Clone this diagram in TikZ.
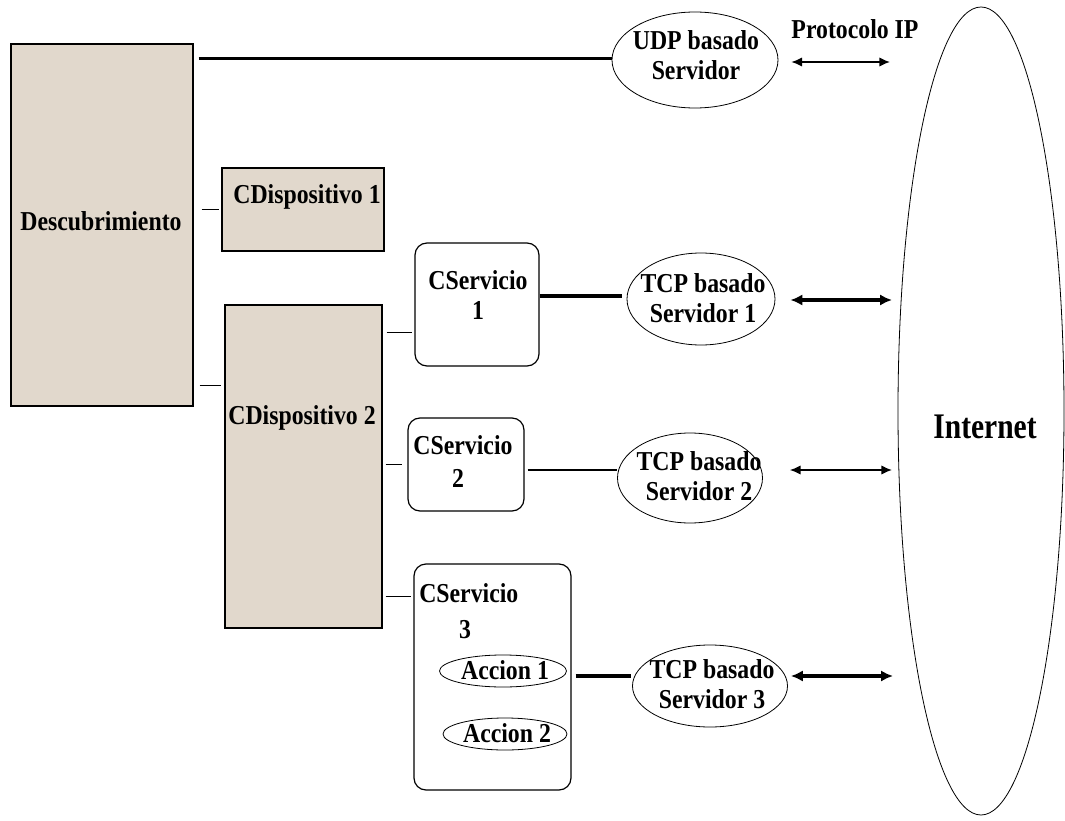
\documentclass[tikz,border=0pt]{standalone}
\usepackage{fontspec}
\setmainfont{Liberation Serif}
\newfontfamily\lblfont{Liberation Serif}[FakeStretch=0.87]
\newfontfamily\netfont{Liberation Serif}[FakeStretch=0.82]
\usetikzlibrary{arrows.meta,calc,shapes.geometric}
\definecolor{panel}{RGB}{225,216,204}
\begin{document}
\begin{tikzpicture}[x=0.75pt,y=-0.75pt,
  font=\lblfont\bfseries\fontsize{20.5pt}{23pt}\selectfont,
  panelbox/.style={draw, fill=panel, line width=0.9pt, inner sep=0},
  svcbox/.style={draw, rounded corners=9pt, line width=0.9pt, inner sep=0},
  srv/.style={draw, ellipse, line width=0.6pt, inner sep=0},
  txt/.style={inner sep=0, align=center},
  link/.style={line width=1.1pt},
  heavy/.style={line width=2.5pt},
  ipthin/.style={line width=1.1pt, {Latex[length=8pt,width=7pt]}-{Latex[length=8pt,width=7pt]}},
  ipthick/.style={line width=2.6pt, {Latex[length=9pt,width=8.5pt]}-{Latex[length=9pt,width=8.5pt]}}]
\useasboundingbox (0,0) rectangle (1065,821);

% left column: discovery block and devices
\node[panelbox, minimum width=136.5pt, minimum height=271.5pt] (desc) at (102,225) {};
\node[txt] at (101,221) {Descubrimiento};
\node[panelbox, minimum width=121.5pt, minimum height=62.25pt] (cd1) at (303,209.5) {};
\node[txt] at (307,197) {CDispositivo 1};
\node[panelbox, minimum width=117.75pt, minimum height=242.25pt] (cd2) at (303.5,466.5) {};
\node[txt] at (302,418) {CDispositivo 2};

% services
\node[svcbox, minimum width=93pt, minimum height=92.25pt] (cs1) at (477,304.5) {};
\node[txt] at (478,295) {CServicio\\1};
\node[svcbox, minimum width=87pt, minimum height=69.75pt] (cs2) at (466,464.5) {};
\node[txt] at (463,445) {CServicio};
\node[txt] at (458,478) {2};
\node[svcbox, minimum width=117.75pt, minimum height=169.5pt] (cs3) at (492.5,677) {};
\node[txt, anchor=west] at (419,593) {CServicio};
\node[txt] at (465,630) {3};
\node[srv, minimum width=95.25pt, minimum height=24pt] (acc1) at (503,671) {};
\node[txt] at (505,670) {Accion 1};
\node[srv, minimum width=93pt, minimum height=24pt] (acc2) at (505,734) {};
\node[txt] at (507,733) {Accion 2};

% servers
\node[srv, minimum width=124.5pt, minimum height=72pt] (udp) at (695,60) {};
\node[txt] at (696,55) {UDP basado\\Servidor};
\node[srv, minimum width=111pt, minimum height=69pt] (tcp1) at (701,299) {};
\node[txt] at (703,298) {TCP basado\\Servidor 1};
\node[srv, minimum width=108.75pt, minimum height=67.5pt] (tcp2) at (690,478) {};
\node[txt] at (699,476) {TCP basado\\Servidor 2};
\node[srv, minimum width=116.25pt, minimum height=61.5pt] (tcp3) at (710,686) {};
\node[txt] at (712,684) {TCP basado\\Servidor 3};

% internet cloud
\node[srv, minimum width=124.5pt, minimum height=606pt] (net) at (981,411) {};
\node[txt, font=\netfont\bfseries\fontsize{27pt}{30pt}\selectfont] at (985,427) {Internet};
\node[txt] at (855,29) {Protocolo IP};

% ends of the IP arrows next to the cloud
\coordinate (n0) at (890,62);
\coordinate (n1) at (892,300);
\coordinate (n2) at (892,470);
\coordinate (n3) at (893,676);

% connectors
\coordinate (u0) at ($(desc.north east)+(5,15)$);
\draw[heavy] (u0) -- (udp.west |- u0);
\draw[link, shorten <=6pt, shorten >=1.5pt] (desc.east |- cd1.west) -- (cd1.west);
\coordinate (d2) at ($(desc.south east)+(6,-21)$);
\draw[link] (d2) -- ($(cd2.west |- d2)+(-3,0)$);
\coordinate (s1) at ($(cd2.east |- cs1.south)+(4,-34)$);
\draw[link] (s1) -- ($(cs1.west |- s1)+(-2,0)$);
\draw[link, shorten <=2.2pt, shorten >=3.7pt] (cd2.east |- cs2.west) -- (cs2.west);
\coordinate (s3) at ($(cd2.east |- cs3.north)+(3,33)$);
\draw[link] (s3) -- ($(cs3.west |- s3)+(-2,0)$);

\coordinate (t1) at ($(tcp1.west)+(-5,-3)$);
\draw[heavy] (cs1.east |- t1) -- (t1);
\coordinate (t2) at ($(tcp2.west)+(0,-8)$);
\draw[link] ($(cs2.east |- t2)+(3,0)$) -- (t2);
\coordinate (t3) at ($(tcp3.west)+(-1,-10)$);
\draw[heavy] ($(cs3.east |- t3)+(4,0)$) -- (t3);

\draw[ipthin] ($(udp.east)+(13,2)$) -- (n0);
\draw[ipthick] ($(tcp1.east)+(15,1)$) -- (n1);
\draw[ipthin] ($(tcp2.east)+(27,-8)$) -- (n2);
\draw[ipthick] ($(tcp3.east)+(3,-10)$) -- (n3);
\end{tikzpicture}
\end{document}
